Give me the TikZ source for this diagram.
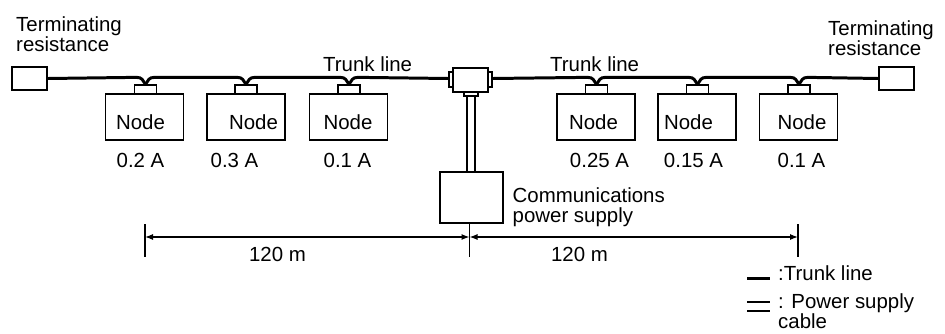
\documentclass[tikz,border=0pt]{standalone}
\usepackage{fontspec}
\setmainfont{Liberation Sans}
\usetikzlibrary{arrows.meta,calc}

\begin{document}
\begin{tikzpicture}[
  x=1bp, y=-1bp,
  every node/.style={font=\fontsize{20.5}{19.5}\selectfont},
  lab/.style={anchor=base west, inner sep=0pt, align=left},
  ctr/.style={anchor=base, inner sep=0pt},
  term/.style={draw, line width=1.4pt, minimum width=35bp, minimum height=23bp, inner sep=0pt},
  nodebox/.style={draw, line width=1.4pt, minimum width=78bp, minimum height=46bp, inner sep=0pt},
  stub/.style={draw, line width=1.3pt, minimum width=22bp, minimum height=9bp, inner sep=0pt},
  tee/.style={draw, line width=1.5pt, minimum width=35bp, minimum height=24bp, inner sep=0pt},
  ear/.style={draw, line width=1.3pt, minimum width=4bp, minimum height=15bp, inner sep=0pt},
  supply/.style={draw, line width=1.4pt, minimum width=63bp, minimum height=51bp, inner sep=0pt},
  trunk/.style={line width=3pt},
  cable/.style={line width=1.4pt},
  dim/.style={{Latex[length=8bp,width=6bp]}-{Latex[length=8bp,width=6bp]}, line width=1.2pt},
  tick/.style={line width=1.3pt}
]
\useasboundingbox (0,0) rectangle (945,333);

\node[term] (termL) at (29.5,78.5) {};
\node[term] (termR) at (896.5,78.5) {};

\node[nodebox] (n1) at (144.5,117) {};
\node[nodebox] (n2) at (246,117) {};
\node[nodebox] (n3) at (348.5,117) {};
\node[nodebox] (n4) at (596,117) {};
\node[nodebox] (n5) at (697,117) {};
\node[nodebox] (n6) at (798.5,117) {};

\node[stub] (s1) at (145.5,89.5) {};
\node[stub] (s2) at (246,89.5) {};
\node[stub] (s3) at (349,89.5) {};
\node[stub] (s4) at (596.5,89.5) {};
\node[stub] (s5) at (697.5,89.5) {};
\node[stub] (s6) at (799,89.5) {};

\node[tee] (tee) at (470.5,80) {};
\node[ear] (earL) at (451,79.5) {};
\node[ear] (earR) at (490,79.5) {};
\node[stub, minimum width=14bp, minimum height=4bp] (teeS) at (471,94) {};
\node[supply] (ps) at (471.5,197.5) {};

\coordinate (dimL) at (145,237);
\coordinate (dimC) at (469.5,237);
\coordinate (dimR) at (798,237);
\coordinate (tickLa) at (145,224);
\coordinate (tickLb) at (145,257);
\coordinate (tickCb) at (469.5,257);
\coordinate (tickRa) at (798,224);
\coordinate (tickRb) at (798,257);

\draw[trunk] (termL.east) -- ($(s1.north)+(-9,-7)$) .. controls +(6,0) and +(-3,-4) .. (s1.north);
\draw[trunk] (s1.north) .. controls +(3,-4) and +(-6,0) .. ($(s1.north)+(9,-7)$) -- ($(s2.north)+(-9,-7)$) .. controls +(6,0) and +(-3,-4) .. (s2.north);
\draw[trunk] (s2.north) .. controls +(3,-4) and +(-6,0) .. ($(s2.north)+(9,-7)$) -- ($(s3.north)+(-9,-7)$) .. controls +(6,0) and +(-3,-4) .. (s3.north);
\draw[trunk] (s3.north) .. controls +(3,-4) and +(-6,0) .. ($(s3.north)+(9,-7)$) -- (earL.west |- termL.east);
\draw[trunk] (earR.east |- termL.east) -- ($(s4.north)+(-9,-7)$) .. controls +(6,0) and +(-3,-4) .. (s4.north);
\draw[trunk] (s4.north) .. controls +(3,-4) and +(-6,0) .. ($(s4.north)+(9,-7)$) -- ($(s5.north)+(-9,-7)$) .. controls +(6,0) and +(-3,-4) .. (s5.north);
\draw[trunk] (s5.north) .. controls +(3,-4) and +(-6,0) .. ($(s5.north)+(9,-7)$) -- ($(s6.north)+(-9,-7)$) .. controls +(6,0) and +(-3,-4) .. (s6.north);
\draw[trunk] (s6.north) .. controls +(3,-4) and +(-6,0) .. ($(s6.north)+(9,-7)$) -- (termR.west);

\draw[cable] ($(teeS.south)+(-4,0)$) -- ($(ps.north)+(-0.5,0)+(-4,0)$);
\draw[cable] ($(teeS.south)+(4,0)$) -- ($(ps.north)+(-0.5,0)+(4,0)$);

\draw[tick] (tickLa) -- (tickLb);
\draw[tick] (ps.south -| dimC) -- (tickCb);
\draw[tick] (tickRa) -- (tickRb);
\draw[dim] (dimL) -- (dimC);
\draw[dim] (dimC) -- (dimR);

\node[lab] (tl1) at (16,51) {Terminating\\resistance};
\node[lab] (tl2) at (828,55) {Terminating\\resistance};
\node[lab] (tr1) at (323,71) {Trunk line};
\node[lab] (tr2) at (550,71) {Trunk line};

\node[ctr] (t1) at (140.5,129) {Node};
\node[ctr] (t2) at (253.5,129) {Node};
\node[ctr] (t3) at (348,129) {Node};
\node[ctr] (t4) at (593.5,129) {Node};
\node[ctr] (t5) at (688.5,129) {Node};
\node[ctr] (t6) at (802,129) {Node};

\node[ctr] (a1) at (140.5,167) {0.2 A};
\node[ctr] (a2) at (234.5,167) {0.3 A};
\node[ctr] (a3) at (347.5,167) {0.1 A};
\node[ctr] (a4) at (599.5,167) {0.25 A};
\node[ctr] (a5) at (693.5,167) {0.15 A};
\node[ctr] (a6) at (801.5,167) {0.1 A};

\node[lab] (pl) at (512.5,222) {Communications\\power supply};
\node[ctr] (m1) at (277.5,261) {120 m};
\node[ctr] (m2) at (579.5,261) {120 m};

\coordinate (kTa) at (747,278);
\coordinate (kTb) at (770,278);
\coordinate (kCa) at (747,302);
\coordinate (kCb) at (770,302);
\coordinate (kDa) at (747,311);
\coordinate (kDb) at (770,311);
\draw[trunk] (kTa) -- (kTb);
\draw[cable] (kCa) -- (kCb);
\draw[cable] (kDa) -- (kDb);
\node[lab] (k1) at (778,280) {:Trunk line};
\node[lab] (k2) at (778,328) {: Power supply\\cable};
\end{tikzpicture}
\end{document}
